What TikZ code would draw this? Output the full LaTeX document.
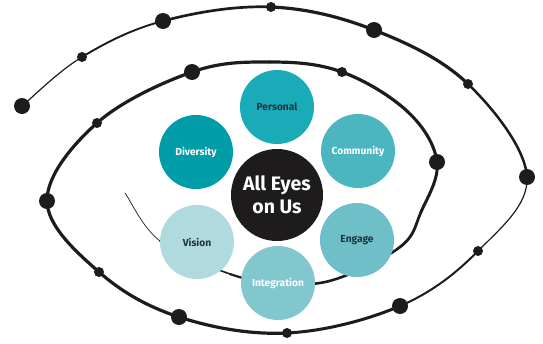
\documentclass[tikz,border=0pt]{standalone}
\usepackage{fontspec}
\setmainfont{Fira Sans}
\usetikzlibrary{calc}

\definecolor{ink}{RGB}{30,27,28}
\definecolor{labeldark}{RGB}{32,52,64}
\definecolor{cPersonal}{RGB}{26,171,184}
\definecolor{cDiversity}{RGB}{0,157,168}
\definecolor{cCommunity}{RGB}{75,182,192}
\definecolor{cEngage}{RGB}{111,191,201}
\definecolor{cIntegration}{RGB}{130,198,206}
\definecolor{cVision}{RGB}{177,218,223}

\begin{document}
\begin{tikzpicture}[x=1pt, y=-1pt,
    every node/.style={circle, inner sep=0pt},
    petal/.style={minimum size=74pt, font=\bfseries\fontsize{10.2}{12}\selectfont},
    bigdot/.style={fill=ink, minimum size=16pt},
    smalldot/.style={fill=ink, minimum size=10pt}]
    \useasboundingbox (0,0) rectangle (543,343);

    % points along the spiral, from the iris outwards
    \foreach \n/\x/\y in {0/125/193, 1/160/241, 2/230/274, 3/280/283,
        4/333/280, 5/400/247, 6/421/212, 7/437/162, 8/408/112,
        9/342/72, 10/270/62, 11/192/72, 12/97/123, 13/47/201,
        14/99/272, 15/179/317, 16/287/333, 17/400/306, 18/478/251,
        19/527/177, 20/468/84, 21/374/30, 22/271/7, 23/163/21,
        24/82/57, 25/22/106}
        \coordinate (p\n) at (\x,\y);

    \foreach \a/\b/\c/\d/\w in {0/0/1/2/0.7, 0/1/2/3/1.6, 1/2/3/4/2.2, 2/3/4/5/2.6,
        3/4/5/6/2.6, 4/5/6/7/2.8, 5/6/7/8/3, 6/7/8/9/3.1, 7/8/9/10/3.2, 8/9/10/11/3.2,
        9/10/11/12/3.2, 10/11/12/13/3.2, 11/12/13/14/3.2, 12/13/14/15/3.2,
        13/14/15/16/3.2, 14/15/16/17/3.2, 15/16/17/18/3, 16/17/18/19/2,
        17/18/19/20/1.2, 18/19/20/21/2.5, 19/20/21/22/3.2, 20/21/22/23/3.2,
        21/22/23/24/2.7, 22/23/24/25/1.9, 23/24/25/25/1.2}
        \draw[ink, line width=\w pt, line cap=round]
            (p\b) .. controls ($(p\b)+0.17*(p\c)-0.17*(p\a)$)
                  and ($(p\c)-0.17*(p\d)+0.17*(p\b)$) .. (p\c);

    \foreach \n in {7,11,13,15,17,19,21,23,25}
        \node[bigdot] (dot\n) at (p\n) {};
    \foreach \n in {9,12,14,16,18,20,22,24}
        \node[smalldot] (dot\n) at (p\n) {};

    \node[fill=ink, minimum size=92pt, text=white, align=center,
        font=\bfseries\fontsize{19.5}{23}\selectfont] (core) at (277,195) {All Eyes\\on Us};
    \node[petal, fill=cPersonal, text=labeldark] (personal) at (277,107) {Personal};
    \node[petal, fill=cDiversity, text=white] (diversity) at (196,152) {Diversity};
    \node[petal, fill=cCommunity, text=white] (community) at (358,151) {Community};
    \node[petal, fill=cVision, text=labeldark] (vision) at (197,242) {Vision};
    \node[petal, fill=cEngage, text=labeldark] (engage) at (357,240) {Engage};
    \node[petal, fill=cIntegration, text=white] (integration) at (278,283) {Integration};
\end{tikzpicture}
\end{document}
